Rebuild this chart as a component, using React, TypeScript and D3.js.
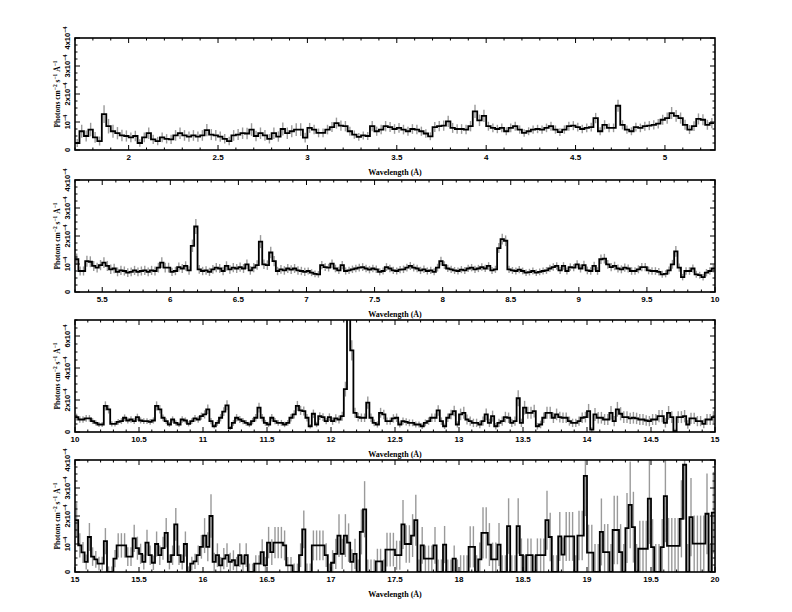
import React, { useEffect, useRef } from "react";
import * as d3 from "d3";

// wavelength bins are 0.025 A wide; flux in units of 1e-4 photons cm^-2 s^-1 A^-1
const binWidth = 0.025;

const panelLo = [1.7, 5.3, 10, 15];
const panelHi = [5.28, 10, 15, 20];
const panelYMax = [4, 4, 7, 4];
const yTickValues = [
  [0, 1, 2, 3, 4],
  [0, 1, 2, 3, 4],
  [0, 2, 4, 6],
  [0, 1, 2, 3, 4],
];
const yMinorStep = [0.25, 0.25, 0.5, 0.25];

// flux per count, by integer wavelength (used for the Poisson error bars)
const errUnit = [0, 0.08, 0.07, 0.04, 0.03, 0.035, 0.03, 0.022, 0.02, 0.025,
  0.05, 0.06, 0.08, 0.12, 0.15, 0.2, 0.3, 0.45, 0.6, 1.0];

const flux1 = [
  0.25, 0.67, 0.5, 0.73, 0.45, 0.32, 1.28, 0.85, 0.67, 0.6,
  0.52, 0.5, 0.45, 0.5, 0.25, 0.45, 0.6, 0.38, 0.32, 0.45,
  0.4, 0.38, 0.52, 0.6, 0.52, 0.48, 0.52, 0.48, 0.52, 0.71,
  0.55, 0.52, 0.48, 0.4, 0.32, 0.52, 0.55, 0.6, 0.59, 0.73,
  0.5, 0.6, 0.52, 0.4, 0.6, 0.48, 0.75, 0.6, 0.67, 0.73,
  0.73, 0.44, 0.79, 0.73, 0.61, 0.61, 0.73, 0.82, 0.96, 0.87,
  0.85, 0.67, 0.55, 0.47, 0.52, 0.5, 0.85, 0.67, 0.73, 0.85,
  0.82, 0.75, 0.79, 0.73, 0.67, 0.75, 0.73, 0.67, 0.59, 0.49,
  0.82, 0.85, 0.87, 1.02, 0.79, 0.75, 0.75, 0.73, 0.85, 1.38,
  1.06, 1.22, 0.85, 0.79, 0.75, 0.79, 0.67, 0.79, 0.85, 0.73,
  0.61, 0.67, 0.73, 0.75, 0.73, 0.79, 0.85, 0.73, 0.64, 0.73,
  0.85, 0.87, 0.82, 0.75, 0.79, 0.82, 1.14, 0.67, 0.9, 0.79,
  0.79, 1.58, 0.9, 0.73, 0.67, 0.82, 0.79, 0.85, 0.87, 0.9,
  0.94, 1.08, 1.14, 1.32, 1.22, 1.14, 0.9, 0.73, 0.85, 1.11,
  1.08, 0.9, 0.96,
];

const flux2 = [
  1.17, 0.75, 0.75, 1.1, 1.08, 0.93, 0.87, 0.96, 1.05, 0.93,
  0.81, 0.84, 0.72, 0.77, 0.75, 0.69, 0.72, 0.77, 0.72, 0.75,
  0.77, 0.72, 0.77, 0.75, 0.87, 1.05, 0.87, 0.87, 0.72, 0.75,
  0.89, 0.84, 0.93, 0.77, 1.65, 2.34, 0.81, 0.75, 0.77, 0.72,
  0.81, 0.87, 0.84, 0.75, 0.93, 0.81, 0.87, 0.84, 0.89, 0.84,
  0.99, 0.77, 0.87, 0.96, 1.8, 0.99, 0.96, 1.41, 1.1, 0.75,
  0.81, 0.77, 0.84, 0.8, 0.84, 0.77, 0.75, 0.72, 0.75, 0.69,
  0.65, 0.63, 0.96, 0.89, 0.87, 1.01, 0.84, 0.77, 0.96, 0.75,
  0.77, 0.81, 0.84, 0.87, 0.89, 0.84, 0.8, 0.84, 0.81, 0.72,
  0.75, 0.89, 0.84, 0.77, 0.75, 0.8, 0.81, 0.87, 0.93, 0.87,
  0.84, 0.77, 0.81, 0.75, 0.77, 0.72, 0.87, 1.1, 0.96, 0.84,
  0.81, 0.77, 0.75, 0.8, 0.77, 0.84, 0.87, 0.81, 0.84, 0.89,
  0.84, 0.93, 0.77, 0.81, 1.57, 1.89, 1.83, 0.81, 0.77, 0.75,
  0.8, 0.75, 0.69, 0.71, 0.75, 0.69, 0.72, 0.75,
  0.77, 0.84, 0.89, 0.93, 0.77, 0.93, 0.75, 0.89, 0.87, 0.99,
  0.84, 0.96, 0.77, 0.75, 0.93, 0.75, 1.17, 1.19, 0.99, 0.89,
  0.93, 0.84, 0.81, 0.87, 0.84, 0.75, 0.75, 0.81, 0.89, 0.89,
  0.77, 0.75, 0.75, 0.72, 0.63, 0.65, 0.77, 0.99, 1.45, 0.87,
  0.53, 0.75, 0.75, 0.84, 0.63, 0.6, 0.53, 0.69, 0.75, 0.84,
];

const flux3 = [
  0.93, 0.78, 0.78, 0.85, 0.85, 0.68, 0.57, 0.47, 0.47, 1.63,
  1.42, 0.51, 0.51, 0.63, 0.68, 0.89, 0.72, 0.78, 0.68, 0.93,
  0.72, 0.68, 0.68, 0.63, 0.72, 1.63, 1.42, 0.89, 0.68, 0.47,
  0.78, 0.57, 0.47, 0.78, 0.72, 0.51, 0.68, 0.85, 0.78, 0.99,
  1.1, 1.42, 0.68, 0.36, 0.57, 0.89, 1.27, 1.67, 0.25, 0.57,
  0.89, 0.78, 0.68, 0.57, 0.47, 0.68, 0.89, 1.52, 0.89, 0.57,
  0.47, 0.89, 0.68, 0.57, 0.57, 0.47, 0.57, 0.89, 1.1, 1.63,
  1.35, 1.31, 0.89, 0.36, 1.14, 0.47, 0.99, 0.93, 0.68, 0.93,
  0.68, 0.85, 0.78, 0.99, 2.68, 9.0, 5.1, 1.2, 0.93, 0.89,
  0.89, 1.84, 0.89, 0.57, 0.47, 1.2, 1.1, 0.68, 0.68, 0.85,
  0.89, 0.47, 0.68, 0.63, 0.57, 0.57, 0.47, 0.47, 0.36, 0.57,
  0.68, 0.89, 0.89, 1.35, 0.68, 0.36, 0.89, 1.1, 1.31, 0.47,
  1.1, 1.2, 0.78, 0.68, 0.57, 0.57, 0.47, 0.68, 1.1, 0.57,
  0.99, 0.36, 0.57, 0.68, 0.93, 0.89, 0.57, 0.68, 2.11, 0.57,
  1.52, 1.2, 1.2, 1.31, 0.36, 0.47, 0.89, 1.2, 1.2, 0.89,
  1.1, 0.93, 0.89, 0.89, 0.68, 0.57, 0.57, 0.68, 0.89, 0.93,
  1.31, 0.15, 1.1, 0.89, 0.89, 0.78, 0.78, 1.2, 0.68, 1.42,
  1.14, 0.93, 0.93, 0.85, 0.89, 0.85, 0.78, 0.78, 0.72, 0.68,
  0.78, 0.78, 0.99, 0.99, 0.57, 1.2, 0.93, 0.05, 0.93, 0.93,
  0.99, 0.47, 0.85, 0.85, 0.68, 0.68, 0.51, 0.78, 0.78, 0.93,
];

const flux4 = [
  1.85, 0.95, 0.7, 0.36, 1.25, 0.55, 0.45, 0.3, 0.3, 1.1,
  0, 0, 0.48, 0.95, 0.95, 0.95, 0.55, 0.55, 1.2, 0.85,
  0.65, 0.36, 1.05, 0.6, 0.33, 1.0, 0.6, 0.85, 1.4, 0.36,
  0.6, 1.7, 0.6, 0.36, 1.0, 0, 0.3, 0.38, 0.6, 0.9,
  1.3, 0.9, 2.0, 0.36, 0.6, 0.24, 0.48, 0.6, 0.36, 0.42,
  0.24, 0.6, 0.3, 0.6, 0, 0, 0.3, 0.3, 0.71, 0.24,
  1.05, 0.71, 1.05, 1.05, 1.05, 0.95, 0.24, 0.24, 0, 0,
  0.6, 1.52, 0, 0, 0.95, 0.95, 0.95, 0.95, 0.6, 0,
  0.33, 0.65, 1.3, 0.65, 1.3, 1.05, 0.36, 0.65, 0, 1.43,
  2.24, 0, 0, 0, 0.38, 0.38, 0, 0.8, 0.8, 0.8,
  0.6, 0.6, 1.7, 1.0, 1.0, 1.3, 1.85, 0, 0.95, 0.48,
  0.48, 0.48, 0.95, 0, 0, 0.98, 0, 0, 0.48, 0,
  0, 0, 0, 0.9, 0.9, 0, 0.45, 1.4, 1.4, 0.98,
  0.45, 0.45, 0.98, 0, 0, 1.64, 0, 0, 1.64, 0.6,
  0, 0.6, 0.6, 0, 0.6, 0.6, 0.6, 1.85, 1.25, 0,
  0, 1.27, 0.62, 1.27, 1.27, 1.27, 0, 1.3, 1.3, 3.43,
  0.69, 0.69, 0, 0, 1.43, 0.71, 0.71, 0, 1.5, 1.5,
  0.71, 0, 1.57, 2.4, 1.6, 0, 0.83, 0.83, 0.83, 2.62,
  0.89, 0, 0, 0.89, 2.71, 0.93, 0.93, 0.93, 0.93, 1.9,
  3.83, 0, 1.96, 1.01, 1.01, 1.01, 1.01, 2.08, 0, 2.12,
];

const fluxes = [flux1, flux2, flux3, flux4];

const panelTop = [38, 180, 320, 460];
const panelH = 112;
const left = 75, right = 715;

function drawPanel(svg, p) {
  const lo = panelLo[p], hi = panelHi[p];
  const top = panelTop[p], bottom = top + panelH;
  const x = d3.scaleLinear().domain([lo, hi]).range([left, right]);
  const y = d3.scaleLinear().domain([0, panelYMax[p]]).range([bottom, top]);

  const bins = fluxes[p].map((v, i) => {
    const b0 = lo + i * binWidth;
    const c = b0 + binWidth / 2;
    const u = errUnit[Math.floor(c)];
    const e = Math.sqrt(Math.max(v, u) * u);
    return { b0, b1: b0 + binWidth, c, v, e };
  });

  svg.append("clipPath").attr("id", "clip" + p)
    .append("rect").attr("x", left).attr("y", top)
    .attr("width", right - left).attr("height", panelH);

  const g = svg.append("g").attr("clip-path", `url(#clip${p})`);

  g.selectAll(".err")
    .data(bins)
    .join("line")
    .attr("x1", (d) => x(d.c)).attr("x2", (d) => x(d.c))
    .attr("y1", (d) => y(Math.max(0, d.v - d.e)))
    .attr("y2", (d) => y(d.v + d.e))
    .attr("stroke", "#9a9a9a")
    .attr("stroke-width", 1.4);

  const pts = bins.flatMap((d) => [[d.b0, d.v], [d.b1, d.v]]);
  const line = d3.line().x((d) => x(d[0])).y((d) => y(d[1]));
  g.append("path")
    .attr("d", line(pts))
    .attr("fill", "none")
    .attr("stroke", "#000")
    .attr("stroke-width", 1.8)
    .attr("stroke-linejoin", "miter");

  // frame
  svg.append("rect")
    .attr("x", left).attr("y", top)
    .attr("width", right - left).attr("height", panelH)
    .attr("fill", "none").attr("stroke", "#000").attr("stroke-width", 1.6);

  const axes = svg.append("g").attr("stroke", "#000").attr("stroke-width", 1);

  // x ticks: major every 0.5, minor every 0.1
  const minorX = d3.range(Math.ceil(lo * 10 - 1e-6), Math.floor(hi * 10 + 1e-6) + 1).map((k) => k / 10);
  minorX.forEach((t) => {
    const major = Math.abs(t * 2 - Math.round(t * 2)) < 1e-6;
    const len = major ? 5 : 2.5;
    axes.append("line").attr("x1", x(t)).attr("x2", x(t)).attr("y1", bottom).attr("y2", bottom - len);
    axes.append("line").attr("x1", x(t)).attr("x2", x(t)).attr("y1", top).attr("y2", top + len);
  });

  // y ticks
  const ymax = panelYMax[p];
  d3.range(0, ymax + 1e-6, yMinorStep[p]).forEach((t) => {
    const major = yTickValues[p].some((v) => Math.abs(v - t) < 1e-6);
    const len = major ? 5 : 2.5;
    axes.append("line").attr("x1", left).attr("x2", left + len).attr("y1", y(t)).attr("y2", y(t));
    axes.append("line").attr("x1", right).attr("x2", right - len).attr("y1", y(t)).attr("y2", y(t));
  });

  // x tick labels
  const majorX = minorX.filter((t) => Math.abs(t * 2 - Math.round(t * 2)) < 1e-6);
  svg.append("g")
    .selectAll("text")
    .data(majorX)
    .join("text")
    .attr("x", (d) => x(d))
    .attr("y", bottom + 10)
    .attr("text-anchor", "middle")
    .attr("font-family", "Liberation Sans, Arial, sans-serif")
    .attr("font-weight", "bold")
    .attr("font-size", 8)
    .text((d) => String(+d.toFixed(1)));

  // y tick labels (rotated)
  yTickValues[p].forEach((v) => {
    const t = svg.append("text")
      .attr("transform", `translate(70, ${y(v)}) rotate(-90)`)
      .attr("text-anchor", "middle")
      .attr("font-family", "Liberation Sans, Arial, sans-serif")
      .attr("font-weight", "bold")
      .attr("font-size", 7.5);
    if (v === 0) {
      t.text("0");
    } else {
      t.append("tspan").text(v === 1 ? "10" : `${v}x10`);
      t.append("tspan").attr("dy", -3).attr("font-size", 5.5).text("\u22124");
    }
  });

  // axis titles
  svg.append("text")
    .attr("x", (left + right) / 2)
    .attr("y", bottom + 25)
    .attr("text-anchor", "middle")
    .attr("font-family", "Liberation Serif, Times New Roman, serif")
    .attr("font-weight", "bold")
    .attr("font-size", 8)
    .text("Wavelength (\u00c5)");

  const yl = svg.append("text")
    .attr("transform", `translate(60, ${(top + bottom) / 2}) rotate(-90)`)
    .attr("text-anchor", "middle")
    .attr("font-family", "Liberation Serif, Times New Roman, serif")
    .attr("font-weight", "bold")
    .attr("font-size", 7.5);
  yl.append("tspan").text("Photons cm");
  yl.append("tspan").attr("dy", -3).attr("font-size", 5.5).text("\u22122");
  yl.append("tspan").attr("dy", 3).text(" s");
  yl.append("tspan").attr("dy", -3).attr("font-size", 5.5).text("\u22121");
  yl.append("tspan").attr("dy", 3).text(" \u00c5");
  yl.append("tspan").attr("dy", -3).attr("font-size", 5.5).text("\u22121");
}

export default function App() {
  const ref = useRef(null);

  useEffect(() => {
    const svg = d3.select(ref.current);
    svg.selectAll("*").remove();
    fluxes.forEach((_, p) => drawPanel(svg, p));
  }, []);

  return (
    <svg
      ref={ref}
      width={792}
      height={612}
      style={{ position: "absolute", left: 0, top: 0, background: "#fff" }}
    />
  );
}
